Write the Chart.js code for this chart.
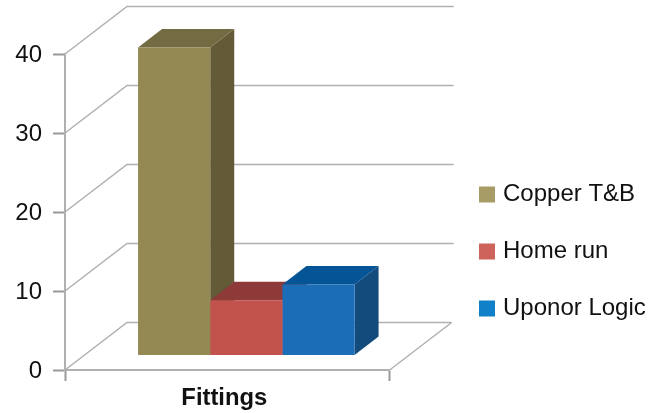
<!DOCTYPE html>
<html>
<head>
<meta charset="utf-8">
<style>
html, body { margin: 0; padding: 0; background: #fff; }
#wrap { position: relative; width: 661px; height: 413px; }
</style>
<script src="https://cdn.jsdelivr.net/npm/chart.js@4"></script>
</head>
<body>
<div id="wrap"><canvas id="chart" width="661" height="413"></canvas></div>
<script>
// Chart data
const categories = ['Fittings'];
const seriesNames = ['Copper T&B', 'Home run', 'Uponor Logic'];
const seriesValues = [[39], [7], [9]];
const frontColors = ['#948952', '#c1524c', '#1b6db8'];
const sideColors = ['#635b38', '#8e3a38', '#134b7c'];
const topColors = ['#736b42', '#8e3a38', '#055596'];
const legendColors = ['#a89c66', '#ce635b', '#1080c8'];

// Fake 3D: the floor/wall depth, and how far the bars stand in from the front
const WALL_DX = 62, WALL_DY = 47.5;
const BAR_DX = 19, BAR_DY = 14.5;
const BAR_DEPTH_X = 24, BAR_DEPTH_Y = 18.5;
const GRID_COLOR = '#b0b0b0';

const threeD = {
    id: 'threeD',
    // back wall lines and the floor edge
    beforeDatasetsDraw(chart) {
        const { ctx, scales: { x, y } } = chart;
        ctx.save();
        ctx.strokeStyle = GRID_COLOR;
        ctx.lineWidth = 1.5;
        y.ticks.forEach(t => {
            const py = y.getPixelForValue(t.value);
            ctx.beginPath();
            ctx.moveTo(x.left, py);
            ctx.lineTo(x.left + WALL_DX, py - WALL_DY);
            ctx.lineTo(x.right + WALL_DX + (t.value === 0 ? 0 : 2), py - WALL_DY);
            ctx.stroke();
        });
        const base = y.getPixelForValue(0);
        ctx.beginPath();
        ctx.moveTo(x.right, base);
        ctx.lineTo(x.right + WALL_DX, base - WALL_DY);
        ctx.stroke();

        // side and top faces, back to front
        seriesValues.forEach((vals, i) => {
            chart.getDatasetMeta(i).data.forEach(bar => {
                const p = bar.getProps(['x', 'y', 'base', 'width'], true);
                const l = p.x - p.width / 2 + BAR_DX;
                const r = p.x + p.width / 2 + BAR_DX;
                const t = p.y - BAR_DY;
                const b = p.base - BAR_DY;
                ctx.fillStyle = sideColors[i];
                ctx.beginPath();
                ctx.moveTo(r, t);
                ctx.lineTo(r + BAR_DEPTH_X, t - BAR_DEPTH_Y);
                ctx.lineTo(r + BAR_DEPTH_X, b - BAR_DEPTH_Y);
                ctx.lineTo(r, b);
                ctx.closePath();
                ctx.fill();
                ctx.fillStyle = topColors[i];
                ctx.beginPath();
                ctx.moveTo(l, t);
                ctx.lineTo(l + BAR_DEPTH_X, t - BAR_DEPTH_Y);
                ctx.lineTo(r + BAR_DEPTH_X, t - BAR_DEPTH_Y);
                ctx.lineTo(r, t);
                ctx.closePath();
                ctx.fill();
            });
        });
        ctx.restore();
    },
    // front faces are the normal bars, just moved into the plot depth
    beforeDatasetDraw(chart) {
        chart.ctx.save();
        chart.ctx.translate(BAR_DX, -BAR_DY);
    },
    afterDatasetDraw(chart) {
        chart.ctx.restore();
    },
    // legend sits away from the plot, move it without changing the plot size
    afterLayout(chart) {
        const l = chart.legend;
        l.left = 450;
        l.right = 661;
        l.top = 149.5;
        l.bottom = 413;
    }
};

new Chart(document.getElementById('chart'), {
    type: 'bar',
    data: {
        labels: categories,
        datasets: seriesNames.map((name, i) => ({
            label: name,
            data: seriesValues[i],
            backgroundColor: frontColors[i],
            categoryPercentage: 0.667,
            barPercentage: 1
        }))
    },
    plugins: [threeD],
    options: {
        responsive: false,
        animation: false,
        layout: { padding: { top: 54, right: 141.5, bottom: 0, left: 0 } },
        plugins: {
            tooltip: { enabled: false },
            legend: {
                position: 'right',
                align: 'start',
                labels: {
                    color: '#111',
                    font: { family: '"Liberation Sans", Arial, sans-serif', size: 24, lineHeight: 1.2 },
                    padding: 33,
                    boxWidth: 8,
                    boxHeight: 8,
                    // thick same-colour outline: swatch keeps its size but sits closer to the text
                    generateLabels: chart => seriesNames.map((name, i) => ({
                        text: name,
                        fillStyle: legendColors[i],
                        strokeStyle: legendColors[i],
                        lineWidth: 8,
                        fontColor: '#111',
                        datasetIndex: i
                    }))
                }
            }
        },
        scales: {
            x: {
                afterFit(s) { s.height = 43; },
                grid: { drawOnChartArea: false, tickLength: 11, tickColor: '#999', tickWidth: 2 },
                border: { color: '#b0b0b0', width: 2 },
                ticks: {
                    color: '#111',
                    padding: 3,
                    labelOffset: -3,
                    font: { family: '"Liberation Sans", Arial, sans-serif', size: 23.8, weight: 'bold' }
                }
            },
            y: {
                min: 0,
                max: 40,
                afterFit(s) { s.width = 65; },
                grid: { drawOnChartArea: false, tickLength: 12, tickColor: '#999', tickWidth: 2 },
                border: { color: '#b0b0b0', width: 2 },
                ticks: {
                    stepSize: 10,
                    color: '#111',
                    padding: 11,
                    labelOffset: 1,
                    font: { family: '"Liberation Sans", Arial, sans-serif', size: 24 }
                }
            }
        }
    }
});
</script>
</body>
</html>
